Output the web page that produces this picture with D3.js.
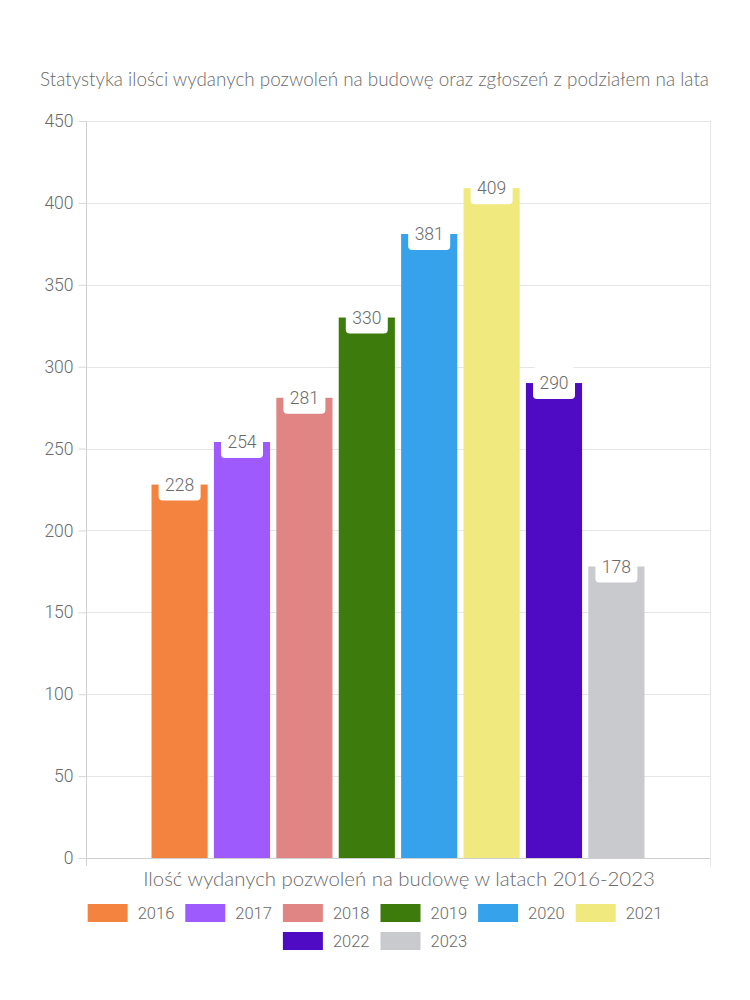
<!DOCTYPE html>
<html>
<head>
<meta charset="utf-8">
<script src="https://cdn.jsdelivr.net/npm/d3@7"></script>
<style>
  html, body { margin: 0; padding: 0; background: #fff; }
  svg { display: block; }
</style>
</head>
<body>
<svg id="chart" width="750" height="1000"></svg>
<script>
const years = ["2016", "2017", "2018", "2019", "2020", "2021", "2022", "2023"];
const permits = [228, 254, 281, 330, 381, 409, 290, 178];
const colors = ["#f4833f", "#9f5afd", "#e08484", "#3d7b0c", "#36a2eb", "#f0ea7e", "#4f0bc3", "#c9cace"];
const yTicks = [0, 50, 100, 150, 200, 250, 300, 350, 400, 450];
const titleText = "Statystyka ilości wydanych pozwoleń na budowę oraz zgłoszeń z podziałem na lata";
const xAxisTitle = "Ilość wydanych pozwoleń na budowę w latach 2016-2023";

(function () {
const svg = d3.select("#chart");
const pLeft = 86, pRight = 710, pTop = 121, pBottom = 858;
const textColor = "#6a6a6a";
const numFont = "Roboto, 'Liberation Sans', sans-serif";
const titleFont = "Lato, 'Open Sans', sans-serif";

const y = d3.scaleLinear().domain([0, 450]).range([pBottom, pTop]);
const cat = d3.scaleBand().domain(["all"]).range([pLeft, pRight]).paddingInner(0).paddingOuter(0.125);
const x = d3.scaleBand().domain(years)
  .range([cat("all"), cat("all") + cat.bandwidth()])
  .paddingInner(0.1).paddingOuter(0.05);

function fitText(sel, targetWidth, baseSize) {
  const w = sel.node().getComputedTextLength();
  sel.attr("font-size", baseSize * targetWidth / w);
}

// Title
const title = svg.append("text")
  .attr("x", 374.5).attr("y", 86)
  .attr("text-anchor", "middle")
  .attr("font-family", titleFont)
  .attr("font-weight", 300)
  .attr("font-size", 17)
  .attr("fill", textColor)
  .text(titleText);
fitText(title, 669, 17);

// Gridlines
svg.append("g").selectAll("line").data(yTicks).join("line")
  .attr("x1", pLeft).attr("x2", pRight)
  .attr("y1", d => Math.round(y(d)) + 0.5).attr("y2", d => Math.round(y(d)) + 0.5)
  .attr("stroke", d => d === 0 ? "#cfcfcf" : "#e6e6e6").attr("stroke-width", 1);

// Y axis
const yAxis = svg.append("g")
  .attr("transform", `translate(${pLeft + 0.5},0)`)
  .call(d3.axisLeft(y).tickValues(yTicks).tickSize(8).tickPadding(5).tickFormat(d3.format("d")));
yAxis.select(".domain").attr("stroke", "#d0d0d0").attr("d", `M0,${pTop}V${pBottom + 8}`);
yAxis.selectAll(".tick line").attr("stroke", "#d8d8d8");
yAxis.selectAll(".tick text")
  .attr("fill", textColor)
  .attr("font-family", numFont)
  .attr("font-weight", 300)
  .attr("font-size", 17.5);

// right border
svg.append("line").attr("x1", pRight + 0.5).attr("x2", pRight + 0.5)
  .attr("y1", pTop).attr("y2", pBottom + 8)
  .attr("stroke", "#e6e6e6");

// Bars
svg.append("g").selectAll("rect").data(years).join("rect")
  .attr("x", d => x(d))
  .attr("y", (d, i) => y(permits[i]))
  .attr("width", x.bandwidth())
  .attr("height", (d, i) => pBottom - y(permits[i]))
  .attr("fill", (d, i) => colors[i]);

// Value labels
const labels = svg.append("g").selectAll("g").data(years).join("g")
  .attr("transform", (d, i) => `translate(${x(d) + x.bandwidth() / 2},${y(permits[i])})`);
labels.append("rect")
  .attr("x", -21).attr("y", -16).attr("width", 42).attr("height", 32)
  .attr("rx", 4).attr("fill", "#fff");
labels.append("text")
  .attr("text-anchor", "middle")
  .attr("dy", "0.36em")
  .attr("font-family", numFont)
  .attr("font-weight", 300)
  .attr("font-size", 17.5)
  .attr("fill", textColor)
  .text((d, i) => permits[i]);

// X axis title
const xt = svg.append("text")
  .attr("x", 399).attr("y", 886)
  .attr("text-anchor", "middle")
  .attr("font-family", titleFont)
  .attr("font-weight", 300)
  .attr("font-size", 18)
  .attr("fill", textColor)
  .text(xAxisTitle);
fitText(xt, 512, 18);

// Legend
const rows = [years.slice(0, 6), years.slice(6)];
const rowY = [904, 932];
const boxW = 40, boxH = 18, gapBox = 10, gapItem = 11;
rows.forEach((row, r) => {
  const g = svg.append("g");
  const items = row.map(yr => {
    const ig = g.append("g");
    ig.append("rect").attr("width", boxW).attr("height", boxH)
      .attr("fill", colors[years.indexOf(yr)]);
    const t = ig.append("text")
      .attr("x", boxW + gapBox).attr("y", boxH / 2).attr("dy", "0.36em")
      .attr("font-family", numFont)
      .attr("font-weight", 300)
      .attr("font-size", 16.5)
      .attr("fill", textColor)
      .text(yr);
    const w = t.node().getComputedTextLength();
    return { ig, w: boxW + gapBox + w };
  });
  const total = d3.sum(items, d => d.w) + gapItem * (items.length - 1);
  let cx = 375 - total / 2;
  items.forEach(it => {
    it.ig.attr("transform", `translate(${cx},${rowY[r]})`);
    cx += it.w + gapItem;
  });
});
})();
</script>
</body>
</html>
